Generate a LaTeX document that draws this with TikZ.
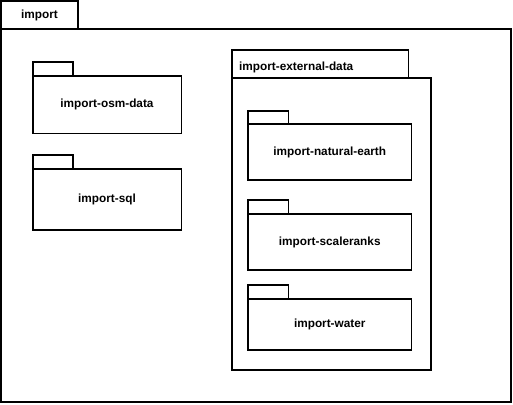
\documentclass[tikz,border=0pt]{standalone}
\usepackage{fontspec}
\setmainfont{Liberation Sans}
\begin{document}
\begin{tikzpicture}[x=1pt,y=-1pt,
  box/.style={draw=black,line width=1.1pt,fill=white},
  lbl/.style={font=\fontsize{11.8}{14}\selectfont\bfseries,inner sep=0pt}]
\useasboundingbox (0,0) rectangle (513,404);
% outer package
\draw[box] (1,1) rectangle (78,29);
\draw[box] (1,29) rectangle (511,402);
\node[lbl] (imp) at (39.5,15) {import};
% import-osm-data
\draw[box] (33,62) rectangle (73,76);
\draw[box] (33,76) rectangle (181.5,133.5);
\node[lbl] (osm) at (107,104.5) {import-osm-data};
% import-sql
\draw[box] (33,155) rectangle (73,169);
\draw[box] (33,169) rectangle (181.5,230);
\node[lbl] (sql) at (107,199.5) {import-sql};
% import-external-data
\draw[box] (232,50) rectangle (408.5,78);
\draw[box] (232,78) rectangle (431,370);
\node[lbl,anchor=west] (ext) at (239,67) {import-external-data};
% natural earth
\draw[box] (248,111) rectangle (288.5,124);
\draw[box] (248,124) rectangle (411.5,180);
\node[lbl] (ne) at (329.75,152) {import-natural-earth};
% scaleranks
\draw[box] (248,200) rectangle (288.5,214);
\draw[box] (248,214) rectangle (411.5,270);
\node[lbl] (sr) at (329.75,242) {import-scaleranks};
% water
\draw[box] (248,285) rectangle (288.5,299);
\draw[box] (248,299) rectangle (411.5,350);
\node[lbl] (wa) at (329.75,324.5) {import-water};
\end{tikzpicture}
\end{document}
